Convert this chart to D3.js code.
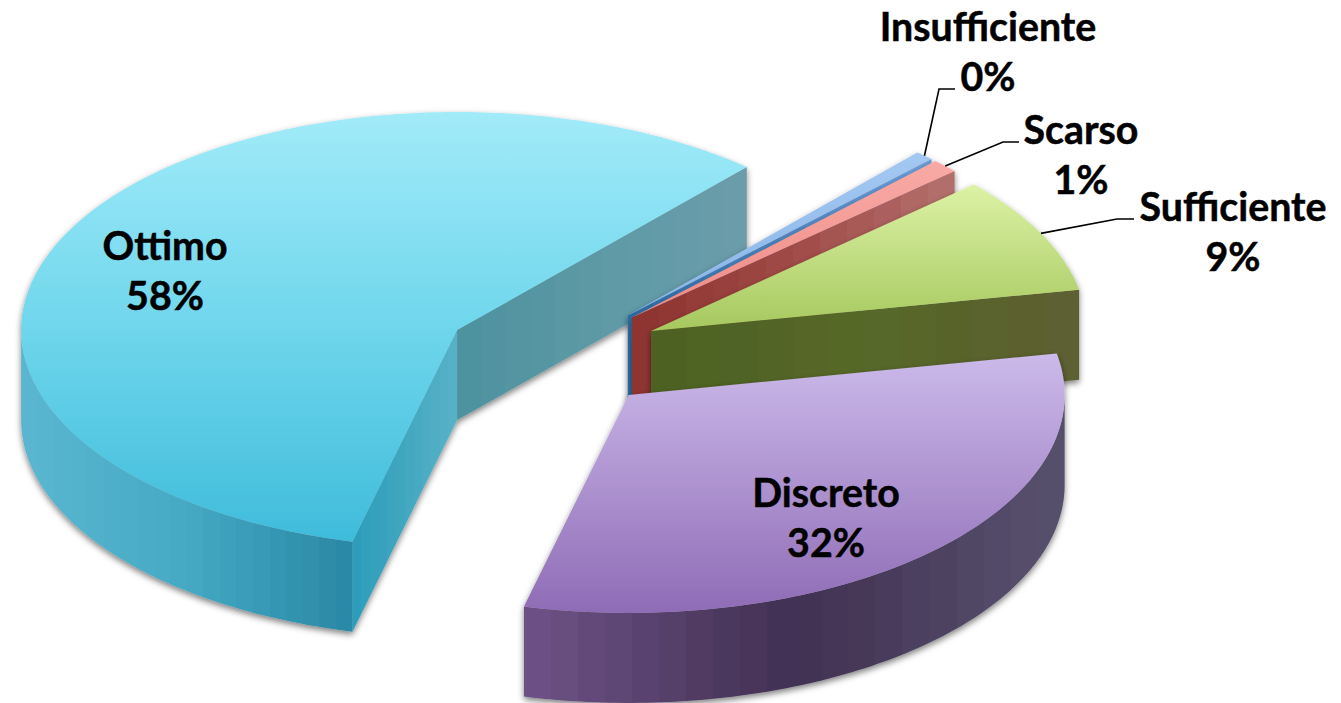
<!DOCTYPE html>
<html><head><meta charset="utf-8">
<script src="https://cdn.jsdelivr.net/npm/d3@7/dist/d3.min.js"></script>
<style>html,body{margin:0;padding:0;background:#fff;overflow:hidden}</style>
</head><body><svg id="c" width="1341" height="703"></svg>
<script>
// Data, in drawing order (clockwise)
const categories = ["Ottimo","Insufficiente","Scarso","Sufficiente","Discreto"];
const values     = [57.7, 0.7, 1.0, 8.7, 31.9];
const pctLabels  = ["58%","0%","1%","9%","32%"];

// Style tables
const topColors  = [["#a2ebf9","#6fd6ec","#3fbcdb"],["#a3c8f2","#8ab5e8"],["#f9aaa6","#ee8a85"],["#dcf2a6","#a6c85e"],["#ccbaea","#8f6cb6"]];
const rimColors  = [["#5ab6d0","#45a9c4","#2a89a6"],["#3c7cb4","#3c7cb4"],["#a55b58","#a55b58"],["#5a6a2e","#5a6a2e"],["#6c5084","#412f52","#56506c"]];
const endWall    = [["#4e929f","#5e9aa6","#6a9caa"],["#2f6ea6","#6f9cd6"],["#8e3430","#a04a47","#b26e6b"],["#4d6223","#566829","#5c6030"],["#555","#555"]];
const startWall  = [["#2e9dbb","#56b1c6"],["#333","#333"],["#333","#333"],["#333","#333"],["#333","#333"]];

// Layout
const W=1341,H=703, cx=553.6, cy=355.4, rx=436, ry=218, depth=90, explode=0.25, startDeg=193.9;
const labelLayout = {
  "Ottimo":{x:165,y:260},"Discreto":{x:826,y:507},
  "Insufficiente":{x:988,y:40.5,ex:939,ey:89,tx:955},
  "Scarso":{x:1081,y:144,ex:1003,ey:142,tx:1019},
  "Sufficiente":{x:1233,y:220.5,ex:1117,ey:219,tx:1134}
};
const lineGap=50, fontSize=39.3;

const svg=d3.select("#c");
const defs=svg.append("defs");
const f=defs.append("filter").attr("id","sh").attr("x","-5%").attr("y","-5%").attr("width","110%").attr("height","115%");
f.append("feDropShadow").attr("dx",0).attr("dy",3).attr("stdDeviation",3).attr("flood-color","#000").attr("flood-opacity",0.5);

function grad(id,colors,x1,y1,x2,y2,bands){
  const g=defs.append("linearGradient").attr("id",id).attr("gradientUnits","userSpaceOnUse")
    .attr("x1",x1).attr("y1",y1).attr("x2",x2).attr("y2",y2);
  const col=d3.scaleLinear().domain(colors.map((c,i)=>i/(colors.length-1))).range(colors).interpolate(d3.interpolateRgb);
  if(!bands){colors.forEach((c,i)=>g.append("stop").attr("offset",i/(colors.length-1)).attr("stop-color",c));return `url(#${id})`;}
  d3.range(bands).forEach(i=>{
    g.append("stop").attr("offset",i/bands).attr("stop-color",col(i/(bands-1)));
    g.append("stop").attr("offset",(i+1)/bands).attr("stop-color",col(i/(bands-1)));
  });
  return `url(#${id})`;
}

const pie=d3.pie().sort(null).value(d=>d)
  .startAngle(startDeg*Math.PI/180).endAngle((startDeg+360)*Math.PI/180);
const arcs=pie(values);
const line=d3.line();
const TAU=2*Math.PI, D90=Math.PI/2, D270=3*Math.PI/2;

arcs.forEach((a,i)=>{
  const mid=(a.startAngle+a.endAngle)/2;
  const ax=cx+rx*explode*Math.sin(mid), ay=cy-ry*explode*Math.cos(mid);
  const P=(t,dz=0)=>[ax+rx*Math.sin(t), ay-ry*Math.cos(t)+dz];
  const apex=(dz=0)=>[ax,ay+dz];
  const sweep=(t0,t1,dz=0)=>{const n=Math.max(2,Math.ceil((t1-t0)*60));return d3.range(n+1).map(k=>P(t0+(t1-t0)*k/n,dz));};
  const g=svg.append("g").attr("class","slice").attr("filter","url(#sh)");

  // cut walls facing the viewer
  const wall=(t,normal,colors,id)=>{
    if(Math.cos(normal)>=0) return;
    const p=P(t), pts=[apex(),p,P(t,depth),apex(depth)];
    const fill=grad(id,colors,Math.min(ax,p[0]),0,Math.max(ax,p[0]),0,12);
    g.append("path").attr("d",line(pts)+"Z").attr("fill",fill);
  };
  wall(a.startAngle,a.startAngle-D90,startWall[i],"ws"+i);
  wall(a.endAngle,a.endAngle+D90,endWall[i],"we"+i);

  // outer rim (front half only)
  const wrap=a.startAngle>=TAU?TAU:0;
  const r0=Math.max(a.startAngle-wrap,D90), r1=Math.min(a.endAngle-wrap,D270);
  if(r1>r0){
    const top=sweep(r0,r1), bot=sweep(r0,r1,depth).reverse();
    const xs=top.map(p=>p[0]);
    const fill=grad("rim"+i,rimColors[i],d3.min(xs),0,d3.max(xs),0,20);
    g.append("path").attr("d",line(top.concat(bot))+"Z").attr("fill",fill);
  }

  // top face
  const face=[apex()].concat(sweep(a.startAngle,a.endAngle));
  const ys=face.map(p=>p[1]);
  const tf=grad("top"+i,topColors[i],0,d3.min(ys),0,d3.max(ys),0);
  g.append("path").attr("d",line(face)+"Z").attr("fill",tf);
  a.anchor=P(mid);
});

// Labels
const font="Lato, Carlito, Calibri, sans-serif";
arcs.forEach((a,i)=>{
  const name=categories[i], L=labelLayout[name];
  if(L.ex!==undefined){
    svg.append("path").attr("d",line([a.anchor,[L.ex,L.ey],[L.tx,L.ey]]))
      .attr("fill","none").attr("stroke","#000").attr("stroke-width",1.6);
  }
  [name,pctLabels[i]].forEach((s,k)=>{
    svg.append("text").attr("x",L.x).attr("y",L.y+k*lineGap).attr("text-anchor","middle")
      .attr("font-family",font).attr("font-weight",700).attr("font-size",fontSize).attr("fill","#000")
      .attr("stroke","#000").attr("stroke-width",0.5).text(s);
  });
});
</script></body></html>
